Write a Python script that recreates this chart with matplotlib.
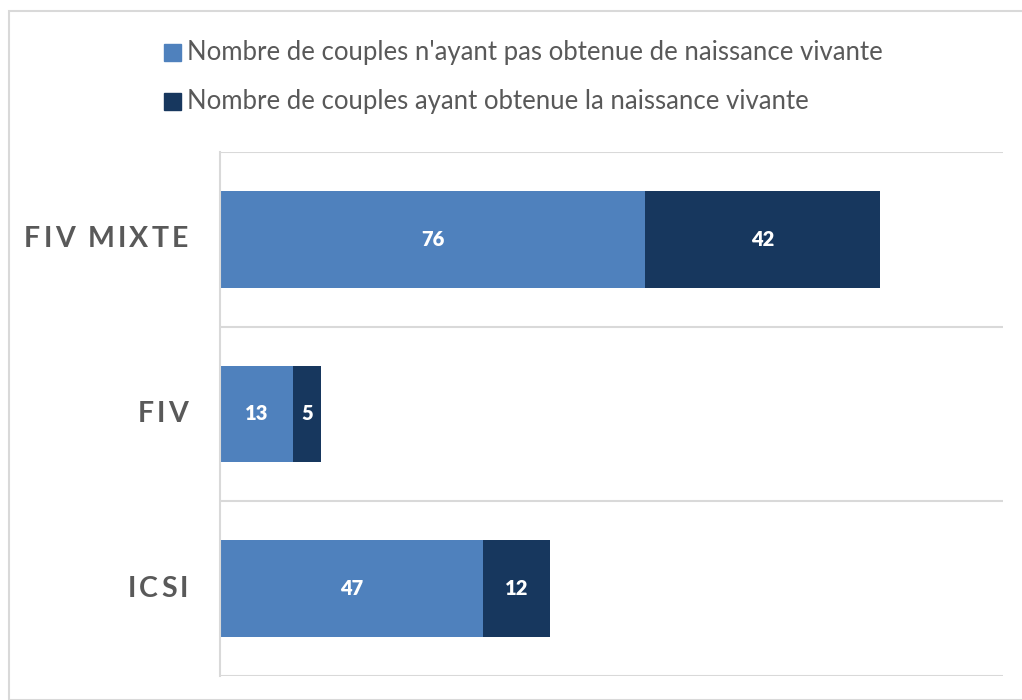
import matplotlib.pyplot as plt
from matplotlib.patches import Rectangle
from matplotlib.font_manager import FontProperties
from matplotlib.transforms import blended_transform_factory

categories = ['ICSI', 'FIV', 'FIV MIXTE']
sans_naissance = [47, 13, 76]
avec_naissance = [12, 5, 42]
series_names = ["Nombre de couples n'ayant pas obtenue de naissance vivante",
                "Nombre de couples ayant obtenue la naissance vivante"]

light = '#4F81BD'
dark = '#17375E'
grid = '#D9D9D9'
txt = '#595959'
fam = ['Lato', 'DejaVu Sans']
W, H = 1022, 700

fig = plt.figure(figsize=(W / 100, H / 100), dpi=100)
fig.patches.append(Rectangle((9 / W, 0), 1.0, 1 - 11 / H, transform=fig.transFigure,
                             fill=False, edgecolor=grid, linewidth=1.5))
ax = fig.add_axes([220 / W, 1 - 676 / H, (1003 - 220) / W, (676 - 152) / H])

y = list(range(len(categories)))
ax.barh(y, sans_naissance, height=0.555, color=light, zorder=2)
ax.barh(y, avec_naissance, left=sans_naissance, height=0.555, color=dark, zorder=2)

for i in y:
    a, b = sans_naissance[i], avec_naissance[i]
    ax.text(a / 2, i, str(a), ha='center', va='center', color='white',
            fontsize=14.5, fontweight='heavy', family=fam)
    ax.text(a + b / 2, i, str(b), ha='center', va='center', color='white',
            fontsize=14.5, fontweight='heavy', family=fam)

ax.set_xlim(0, 140)
ax.set_ylim(-0.5, len(categories) - 0.5)
for g in [-0.5, 0.5, 1.5, 2.5]:
    ax.axhline(g, color=grid, linewidth=1.5, zorder=1)
for s in ['top', 'right', 'bottom']:
    ax.spines[s].set_visible(False)
ax.spines['left'].set_color(grid)
ax.spines['left'].set_linewidth(1.5)
ax.set_xticks([])
ax.set_yticks([])

# category labels with letter spacing, right aligned at x=188 px
renderer = fig.canvas.get_renderer()
prop = FontProperties(family=fam, weight='bold', size=20.5)


def char_w(c):
    return renderer.get_text_width_height_descent(c, prop, ismath=False)[0]


longest = max(categories, key=len)
natural = sum(char_w(c) for c in longest)
spacing = (164 - natural) / (len(longest) - 1)
tr = blended_transform_factory(fig.transFigure, ax.transData)
for i, cat in enumerate(categories):
    total = sum(char_w(c) for c in cat) + spacing * (len(cat) - 1)
    x = 188 - total
    for c in cat:
        fig.text(x / W, i, c, transform=tr, ha='left', va='center', color=txt,
                 fontproperties=prop)
        x += char_w(c) + spacing

# legend drawn by hand
for k, (name, col) in enumerate(zip(series_names, [light, dark])):
    top = 44 + 49 * k
    fig.patches.append(Rectangle((164 / W, 1 - (top + 17) / H), 17 / W, 17 / H,
                                 transform=fig.transFigure, color=col))
    fig.text(187 / W, 1 - (top + 8.5) / H, name, ha='left', va='center', color=txt,
             family=fam, fontsize=18.5)

fig.savefig('out.png', dpi=100)
